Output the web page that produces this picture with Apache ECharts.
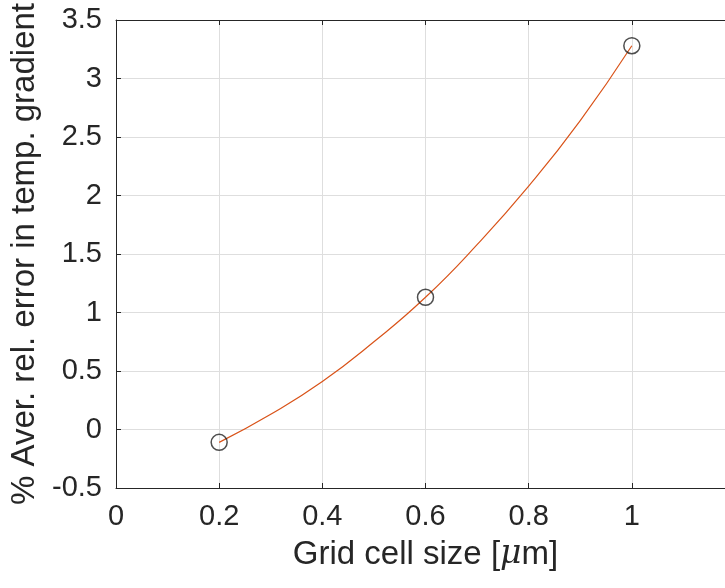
<!DOCTYPE html>
<html>
<head>
<meta charset="utf-8">
<script src="https://cdn.jsdelivr.net/npm/echarts@6/dist/echarts.min.js"></script>
<style>
  html, body { margin: 0; padding: 0; background: #fff; }
  #chart { width: 725px; height: 588px; }
</style>
</head>
<body>
<div id="chart"></div>
<script>
// measured points (circles)
const cellSize = [0.2, 0.6, 1.0];
const avgRelError = [-0.11, 1.13, 3.28];

// fitted curve
const fitX = [0.2, 0.3, 0.4, 0.5, 0.6, 0.7, 0.8, 0.9, 1.0];
const fitY = [-0.11, 0.13, 0.41, 0.75, 1.13, 1.58, 2.08, 2.64, 3.28];

// axis ticks
const xTicks = [0, 0.2, 0.4, 0.6, 0.8, 1, 1.2];
const yTicks = [-0.5, 0, 0.5, 1, 1.5, 2, 2.5, 3, 3.5];

const chart = echarts.init(document.getElementById('chart'));

const font = 'Liberation Sans, Arial, Helvetica, sans-serif';
const axisColor = '#262626';

const option = {
    backgroundColor: '#fff',
    animation: false,
    grid: {
        left: 116,
        top: 20,
        right: -10,
        bottom: 100,
        containLabel: false,
        outerBoundsMode: 'none',
    },
    xAxis: [
        {
            type: 'value',
            min: xTicks[0],
            max: xTicks[xTicks.length - 1],
            interval: 0.2,
            name: 'Grid cell size [{i|μ}m]',
            nameLocation: 'middle',
            nameGap: 50,
            nameTextStyle: {
                color: axisColor,
                fontSize: 33,
                fontFamily: font,
                rich: { i: { fontStyle: 'italic', fontSize: 33, fontFamily: 'DejaVu Serif', color: axisColor } },
            },
            axisLine: { show: true, onZero: false, lineStyle: { color: axisColor, width: 1 } },
            axisTick: { show: true, inside: true, length: 5, lineStyle: { color: axisColor } },
            axisLabel: {
                color: axisColor,
                fontSize: 29,
                fontFamily: font,
                margin: 14,
                showMaxLabel: false,
                formatter: (v) => String(Math.round(v * 10) / 10),
            },
            splitLine: { show: true, lineStyle: { color: '#dedede', width: 1 } },
        },
        {
            // top border of the box
            type: 'value',
            position: 'top',
            min: xTicks[0],
            max: xTicks[xTicks.length - 1],
            interval: 0.2,
            axisLine: { show: true, onZero: false, lineStyle: { color: axisColor, width: 1 } },
            axisTick: { show: true, inside: true, length: 5, lineStyle: { color: axisColor } },
            axisLabel: { show: false },
            splitLine: { show: false },
        },
    ],
    yAxis: {
        type: 'value',
        min: yTicks[0],
        max: yTicks[yTicks.length - 1],
        interval: 0.5,
        name: '% Aver. rel. error in temp. gradient',
        nameLocation: 'middle',
        nameGap: 74,
        nameTextStyle: {
            color: axisColor,
            fontSize: 33,
            fontFamily: font,
        },
        axisLine: { show: true, onZero: false, lineStyle: { color: axisColor, width: 1 } },
        axisTick: { show: true, inside: true, length: 5, lineStyle: { color: axisColor } },
        axisLabel: {
            color: axisColor,
            fontSize: 29,
            fontFamily: font,
            margin: 14,
        },
        splitLine: { show: true, lineStyle: { color: '#dedede', width: 1 } },
    },
    series: [
        {
            name: 'fit',
            type: 'line',
            data: fitX.map((x, i) => [x, fitY[i]]),
            smooth: true,
            showSymbol: false,
            lineStyle: { color: '#D95319', width: 1.2 },
            z: 2,
        },
        {
            name: 'data',
            type: 'scatter',
            data: cellSize.map((x, i) => [x, avgRelError[i]]),
            symbol: 'circle',
            symbolSize: 16,
            itemStyle: { color: 'rgba(0,0,0,0)', borderColor: '#222', borderWidth: 1.5 },
            z: 3,
        },
    ],
};

chart.setOption(option);
</script>
</body>
</html>
